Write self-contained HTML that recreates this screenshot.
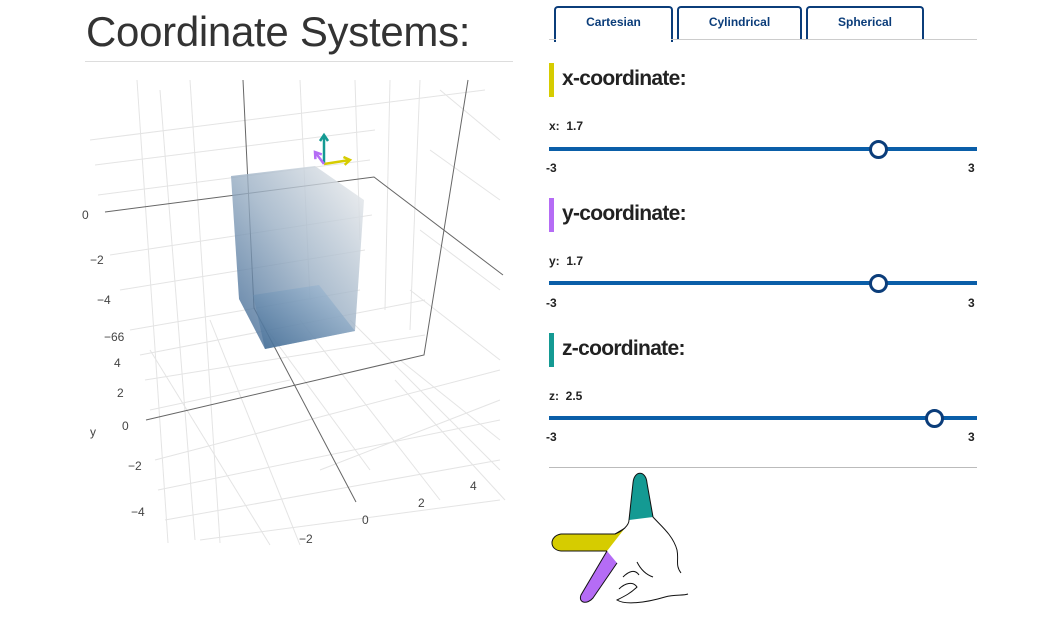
<!DOCTYPE html>
<html><head><meta charset="utf-8"><style>
body{margin:0;width:1064px;height:640px;background:#fff;overflow:hidden;font-family:"Liberation Sans",sans-serif;position:relative}
.abs{position:absolute}
.title{left:86px;top:8px;font-size:42px;color:#333;font-weight:300;letter-spacing:-0.3px}
.tab{position:absolute;top:6px;height:34px;border:2px solid #0b3d7a;border-bottom:none;border-radius:4px 4px 0 0;background:#fff;color:#0b3d7a;font-weight:bold;font-size:12px;text-align:center;line-height:28px;box-sizing:border-box}
.bar{position:absolute;left:549px;width:5px;height:34px}
.h{position:absolute;left:562px;font-size:21px;font-weight:bold;color:#222;letter-spacing:-0.7px}
.lbl{position:absolute;left:549px;font-size:12px;font-weight:bold;color:#222}
.tick{position:absolute;font-size:12px;font-weight:bold;color:#222}
.track{position:absolute;left:549px;width:428px;height:4px;background:#0a5ea8}
.thumb{position:absolute;width:13px;height:13px;border:3px solid #0b3d7a;border-radius:50%;background:#fff}
</style></head><body>
<div class="abs title">Coordinate Systems:</div>
<div class="abs" style="left:85px;top:61px;width:428px;height:1px;background:#ddd"></div>

<svg class="abs" style="left:0;top:0" width="540" height="640">
<defs><linearGradient id="g" x1="0" y1="1" x2="1" y2="0"><stop offset="0" stop-color="#2d5a8a"/><stop offset="0.5" stop-color="#9aafc4"/><stop offset="1" stop-color="#f0f0f0"/></linearGradient>
<linearGradient id="g2" x1="0" y1="1" x2="1" y2="0"><stop offset="0" stop-color="#3a6690"/><stop offset="1" stop-color="#a9c3dc"/></linearGradient></defs>
<g id="grid" stroke="#e4e4e4" stroke-width="1" fill="none"></g>
<g stroke="#666" stroke-width="1" fill="none">
<polyline points="243,80 254,308 356,502"/>
<polyline points="105,212 374,177 503,275"/>
<polyline points="468,80 424,355 146,420"/>
</g>
<g id="box"></g>
<g font-size="12" fill="#444" id="ticks"></g>
</svg>

<div class="tab" style="left:554px;width:119px;height:36px">Cartesian</div>
<div class="tab" style="left:677px;width:125px">Cylindrical</div>
<div class="tab" style="left:806px;width:118px">Spherical</div>
<div class="abs" style="left:549px;top:39px;width:428px;height:1px;background:#ccc"></div>
<div class="abs" style="left:556px;top:38px;width:115px;height:3px;background:#fff"></div>

<div class="bar" style="top:63px;background:#d6cc00"></div>
<div class="h" style="top:67px">x-coordinate:</div>
<div class="lbl" style="top:119px">x:&nbsp; 1.7</div>
<div class="track" style="top:147px"></div>
<div class="thumb" id="tx" style="top:140px"></div>
<div class="tick" style="left:546px;top:161px">-3</div>
<div class="tick" style="left:968px;top:161px">3</div>

<div class="bar" style="top:198px;background:#b56cf5"></div>
<div class="h" style="top:202px">y-coordinate:</div>
<div class="lbl" style="top:254px">y:&nbsp; 1.7</div>
<div class="track" style="top:281px"></div>
<div class="thumb" id="ty" style="top:274px"></div>
<div class="tick" style="left:546px;top:296px">-3</div>
<div class="tick" style="left:968px;top:296px">3</div>

<div class="bar" style="top:333px;background:#149a93"></div>
<div class="h" style="top:337px">z-coordinate:</div>
<div class="lbl" style="top:389px">z:&nbsp; 2.5</div>
<div class="track" style="top:416px"></div>
<div class="thumb" id="tz" style="top:409px"></div>
<div class="tick" style="left:546px;top:430px">-3</div>
<div class="tick" style="left:968px;top:430px">3</div>
<div class="abs" style="left:549px;top:467px;width:428px;height:1px;background:#bbb"></div>

<svg class="abs" style="left:545px;top:465px" width="150" height="145">
<path d="M84,55 L88,18 C89,5 101,5 102,18 L108,52 Z" fill="#149a93"/>
<path d="M80,63 L70,69 L16,69 C4,71 4,85 16,86 L62,86 Z" fill="#d6cc00"/>
<path d="M62,86 L72,98 L48,133 C42,140 33,138 36,130 Z" fill="#b56cf5"/>
<g fill="none" stroke="#111" stroke-width="1">
<path d="M84,55 L88,18 C89,5 101,5 102,18 L108,52 C115,60 128,70 132,85 C134,95 130,100 136,108"/>
<path d="M80,63 L70,69 L16,69 C4,71 4,85 16,86 L62,86"/>
<path d="M62,86 L36,130 C33,138 42,140 48,133 L72,98"/>
<path d="M70,69 C78,66 84,60 84,55"/>
<path d="M78,112 C84,106 90,104 94,110 M74,124 C80,118 88,116 92,122 C86,128 80,131 72,135 C80,140 100,138 120,132 C130,129 138,131 143,129"/>
<path d="M92,97 C96,105 102,110 108,112"/>
</g>
</svg>

<script>
// slider values
const sliderNames=['x','y','z'];
const sliderValues=[1.7,1.7,2.5];
const sliderRange=[-3,3];
sliderNames.forEach((n,i)=>{
 const px=549+(sliderValues[i]-sliderRange[0])/(sliderRange[1]-sliderRange[0])*421;
 document.getElementById('t'+n).style.left=(px-9.5)+'px';
});
const NS='http://www.w3.org/2000/svg';
function mk(tag,attrs,parent){const e=document.createElementNS(NS,tag);for(const k in attrs)e.setAttribute(k,attrs[k]);parent.appendChild(e);return e;}
// light grid lines (background scene)
const gridSegs=[[137,80,168,543],[190,80,220,543],[160,90,195,540],[90,140,485,90],[95,165,375,130],[98,195,370,160],[110,255,372,215],[120,290,365,250],[130,330,360,290],[140,355,425,300],[145,380,425,335],[150,410,290,380],[155,460,500,370],[158,490,500,420],[165,520,500,460],[200,540,500,500],[300,80,310,300],[355,80,360,240],[390,80,385,310],[420,80,410,330],[440,90,500,140],[430,150,500,200],[420,230,500,290],[410,290,500,360],[400,360,500,440],[395,380,505,500],[320,470,500,400],[210,320,300,545],[260,320,370,470],[300,320,440,500],[350,320,500,470],[150,350,270,545]];
const gg=document.getElementById('grid');
gridSegs.forEach(s=>{const l=mk('line',{x1:s[0],y1:s[1],x2:s[2],y2:s[3]},gg);

});
// box (x,y,z = 1.7,1.7,2.5)
const box=document.getElementById('box');
const b1=mk('polygon',{points:'231,176 315,166 364,200 355,331 265,349 239,299',fill:'url(#g)',opacity:'0.8'},box);


const b2=mk('polygon',{points:'253,295 319,285 355,331 265,349',fill:'url(#g2)',opacity:'0.6'},box);


// origin arrows
const arrows=[['#149a93',324,164,324,135,'z-arrow'],['#d6cc00',324,164,350,160,'x-arrow'],['#b56cf5',324,164,315,152,'y-arrow']];
arrows.forEach(a=>{const l=mk('line',{x1:a[1],y1:a[2],x2:a[3],y2:a[4],stroke:a[0],'stroke-width':2.5},box);


const dx=a[3]-a[1],dy=a[4]-a[2],L=Math.hypot(dx,dy),ux=dx/L,uy=dy/L;
const p=mk('polyline',{points:(a[3]-ux*6-uy*4)+','+(a[4]-uy*6+ux*4)+' '+a[3]+','+a[4]+' '+(a[3]-ux*6+uy*4)+','+(a[4]-uy*6-ux*4),stroke:a[0],'stroke-width':2.5,fill:'none'},box);

});
// tick labels
const tickLabels=['0','−2','−4','−66','4','2','0','y','−2','−4','−2','0','2','4'];
const tickPos=[[82,219],[90,264],[97,304],[104,341],[114,367],[117,397],[122,430],[90,436],[128,470],[131,516],[299,543],[362,524],[418,507],[470,490]];
const tg=document.getElementById('ticks');
tickLabels.forEach((t,i)=>{const e=mk('text',{x:tickPos[i][0],y:tickPos[i][1]},tg);e.textContent=t;

});
</script>
</body></html>
